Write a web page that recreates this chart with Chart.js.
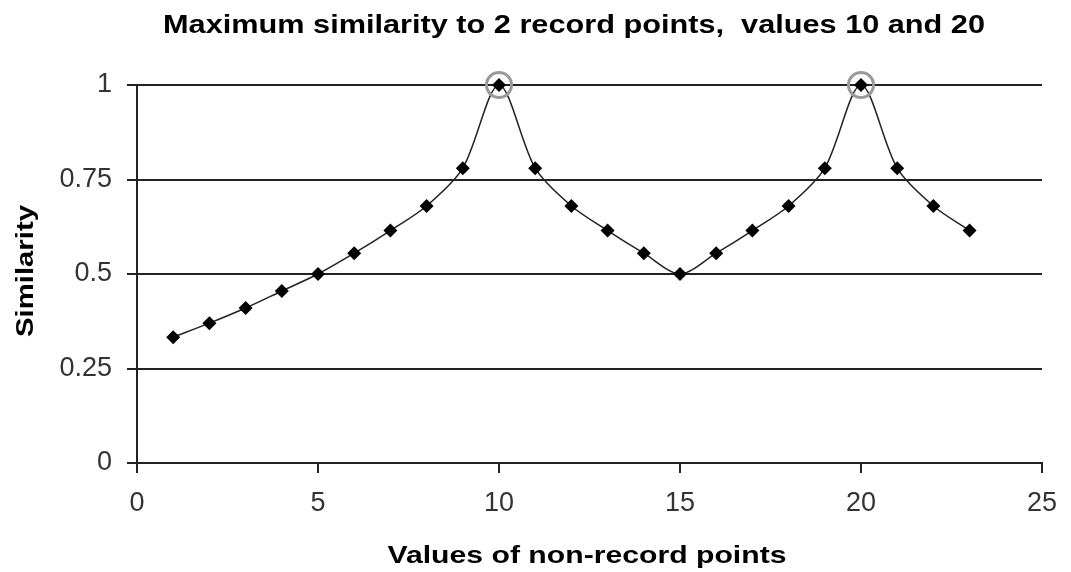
<!DOCTYPE html>
<html>
<head>
<meta charset="utf-8">
<script src="https://cdn.jsdelivr.net/npm/chart.js@4/dist/chart.umd.min.js"></script>
<style>
html,body{margin:0;padding:0;background:#fff;}
canvas{display:block;}
</style>
</head>
<body>
<canvas id="c" width="1071" height="572"></canvas>
<script>
const titleText = "Maximum similarity to 2 record points,  values 10 and 20";
const xAxisTitle = "Values of non-record points";
const yAxisTitle = "Similarity";
const xValues = [1,2,3,4,5,6,7,8,9,10,11,12,13,14,15,16,17,18,19,20,21,22,23];
const similarity = [0.333,0.37,0.41,0.455,0.5,0.555,0.615,0.68,0.78,1,0.78,0.68,0.615,0.555,0.5,0.555,0.615,0.68,0.78,1,0.78,0.68,0.615];
const recordX = [10,20];
const recordY = [1,1];

const mainData = xValues.map((x,i)=>({x:x,y:similarity[i]}));
const recordData = recordX.map((x,i)=>({x:x,y:recordY[i]}));

function fitText(ctx, text, font, cx, cy, width, rot){
  ctx.save();
  ctx.font = font;
  ctx.fillStyle = '#000';
  ctx.textAlign = 'center';
  ctx.textBaseline = 'alphabetic';
  const w = ctx.measureText(text).width;
  ctx.translate(cx, cy);
  if (rot) ctx.rotate(rot);
  ctx.scale(width / w, 1);
  ctx.fillText(text, 0, 0);
  ctx.restore();
}

const textPlugin = {
  id: 'texts',
  afterDraw(chart){
    const ctx = chart.ctx;
    fitText(ctx, titleText, 'bold 25px "Liberation Sans", Arial, sans-serif', 574, 33, 822, 0);
    fitText(ctx, xAxisTitle, 'bold 24px "Liberation Sans", Arial, sans-serif', 587, 563, 399, 0);
    fitText(ctx, yAxisTitle, 'bold 24px "Liberation Sans", Arial, sans-serif', 33, 271, 132, -Math.PI/2);
  }
};

const tickFont = { family: '"Liberation Sans", Arial, sans-serif', size: 27 };

new Chart(document.getElementById('c'), {
  type: 'line',
  data: {
    datasets: [
      {
        data: recordData,
        showLine: false,
        pointStyle: 'circle',
        pointRadius: 12.5,
        pointBorderWidth: 3,
        pointBorderColor: '#999',
        pointBackgroundColor: 'rgba(0,0,0,0)',
        clip: false
      },
      {
        data: mainData,
        borderColor: '#222',
        borderWidth: 1.5,
        tension: 0.3,
        pointStyle: 'rectRot',
        pointRadius: 7,
        pointBackgroundColor: '#000',
        pointBorderColor: '#000',
        pointBorderWidth: 0,
        clip: false
      }
    ]
  },
  options: {
    responsive: false,
    devicePixelRatio: 1,
    animation: false,
    events: [],
    layout: { padding: { top: 85, right: 26, left: 0, bottom: 0 } },
    plugins: { legend: { display: false }, tooltip: { enabled: false }, title: { display: false } },
    scales: {
      x: {
        type: 'linear',
        min: 0, max: 25,
        ticks: { stepSize: 5, color: '#333', padding: 14, font: tickFont, callback: v => String(v) },
        grid: { drawOnChartArea: false, drawTicks: true, tickLength: 10, color: '#222', lineWidth: 2 },
        border: { display: true, color: '#222', width: 2 },
        afterFit(s){ s.height = 109; }
      },
      y: {
        min: 0, max: 1,
        ticks: { stepSize: 0.25, color: '#333', padding: 15, font: tickFont, callback: v => String(v) },
        grid: { drawOnChartArea: true, drawTicks: true, tickLength: 10, color: '#222', lineWidth: 2 },
        border: { display: true, color: '#222', width: 2 },
        afterFit(s){ s.width = 137; }
      }
    }
  },
  plugins: [textPlugin]
});
</script>
</body>
</html>
